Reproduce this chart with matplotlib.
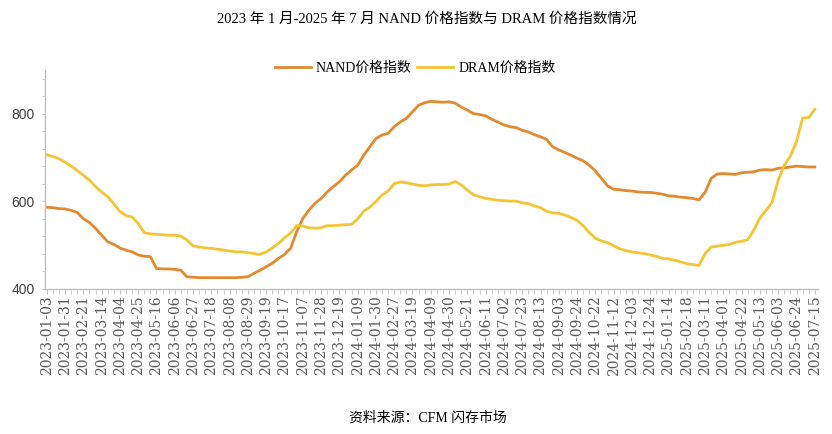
import matplotlib
matplotlib.use("Agg")
import matplotlib.pyplot as plt
from matplotlib.ticker import MultipleLocator, FixedLocator

plt.rcParams['font.family'] = ['Noto Sans CJK SC', 'DejaVu Sans']

# 每三周一个刻度标签
tick_labels = [
    "2023-01-03", "2023-01-31", "2023-02-21", "2023-03-14", "2023-04-04",
    "2023-04-25", "2023-05-16", "2023-06-06", "2023-06-27", "2023-07-18",
    "2023-08-08", "2023-08-29", "2023-09-19", "2023-10-17", "2023-11-07",
    "2023-11-28", "2023-12-19", "2024-01-09", "2024-01-30", "2024-02-27",
    "2024-03-19", "2024-04-09", "2024-04-30", "2024-05-21", "2024-06-11",
    "2024-07-02", "2024-07-23", "2024-08-13", "2024-09-03", "2024-09-24",
    "2024-10-22", "2024-11-12", "2024-12-03", "2024-12-24", "2025-01-14",
    "2025-02-18", "2025-03-11", "2025-04-01", "2025-04-22", "2025-05-13",
    "2025-06-03", "2025-06-24", "2025-07-15",
]

nand = [
    586, 585, 583, 582, 579, 574, 560, 551, 538, 522,
    507, 501, 493, 488, 484, 477, 474, 473, 446, 445,
    445, 444, 442, 427, 426, 425, 425, 425, 425, 425,
    425, 425, 426, 427, 435, 442, 450, 458, 469, 478,
    492, 530, 560, 579, 595, 606, 621, 633, 644, 659,
    671, 682, 705, 724, 743, 751, 755, 770, 781, 789,
    804, 819, 825, 828, 827, 826, 827, 824, 815, 808,
    800, 798, 795, 787, 781, 774, 770, 768, 762, 758,
    752, 747, 741, 724, 717, 711, 705, 698, 692, 682,
    669, 652, 635, 627, 626, 624, 623, 621, 620, 620,
    618, 616, 612, 611, 609, 608, 606, 603, 620, 652,
    662, 663, 662, 661, 665, 666, 667, 671, 672, 671,
    675, 676, 678, 680, 679, 678, 678,
]

dram = [
    706, 702, 697, 689, 680, 670, 659, 648, 633, 621,
    610, 594, 576, 567, 564, 549, 528, 525, 524, 523,
    522, 522, 520, 511, 498, 495, 493, 492, 490, 488,
    486, 484, 484, 482, 480, 478, 484, 493, 503, 516,
    527, 544, 543, 539, 538, 539, 544, 544, 545, 546,
    547, 559, 577, 586, 599, 614, 623, 640, 644, 642,
    639, 636, 635, 637, 638, 638, 639, 645, 637, 625,
    615, 610, 606, 604, 602, 601, 600, 600, 596, 594,
    589, 585, 577, 573, 572, 568, 563, 556, 544, 528,
    515, 509, 505, 498, 491, 487, 484, 482, 480, 477,
    474, 469, 468, 465, 461, 457, 455, 453, 480, 495,
    497, 499, 501, 506, 508, 512, 534, 562, 579, 597,
    648, 682, 703, 736, 790, 791, 810,
]

fig = plt.figure(figsize=(8.32, 4.34), dpi=100)
ax = fig.add_axes([0.054, 0.335, 0.929, 0.504])

x = list(range(len(nand)))
ax.plot(x, nand, color='#E3892F', lw=2.0, label='NAND价格指数', solid_joinstyle='round')
ax.plot(x, dram, color='#F3C535', lw=2.0, label='DRAM价格指数', solid_joinstyle='round')

ax.set_xlim(-0.3, len(nand) - 0.5)
ax.set_ylim(400, 900)

for s in ['top', 'right']:
    ax.spines[s].set_visible(False)
for s in ['left', 'bottom']:
    ax.spines[s].set_color('#BFBFBF')
    ax.spines[s].set_linewidth(1.0)

ax.xaxis.set_major_locator(FixedLocator(list(range(0, len(nand), 3))))
ax.set_xticklabels(tick_labels, rotation=90, family='DejaVu Serif',
                   fontsize=10, color='#595959')
ax.xaxis.set_minor_locator(MultipleLocator(1))
ax.tick_params(axis='x', which='both', length=3.5, color='#BFBFBF', pad=1.5)

ax.set_yticks([400, 600, 800])
ax.yaxis.set_minor_locator(MultipleLocator(40))
ax.tick_params(axis='y', which='both', length=2.5, color='#BFBFBF', pad=5,
               labelsize=10, labelcolor='#404040')
for lab in ax.get_yticklabels():
    lab.set_family('Liberation Sans')

fig.text(0.513, 0.956, '2023 年 1 月-2025 年 7 月 NAND 价格指数与 DRAM 价格指数情况',
         ha='center', va='center', fontsize=10.5, color='#000000',
         family=['Liberation Serif', 'Noto Sans CJK SC'])

fig.legend(loc='center', bbox_to_anchor=(0.499, 0.843), ncol=2, frameon=False,
           handlelength=2.6, handletextpad=0.35, columnspacing=0.4,
           prop={'family': ['Liberation Serif', 'Noto Sans CJK SC'], 'size': 10})

fig.text(0.514, 0.037, '资料来源：CFM 闪存市场', ha='center', va='center',
         fontsize=10, color='#000000',
         family=['Liberation Serif', 'Noto Sans CJK SC'])

fig.savefig('out.png', dpi=100)
